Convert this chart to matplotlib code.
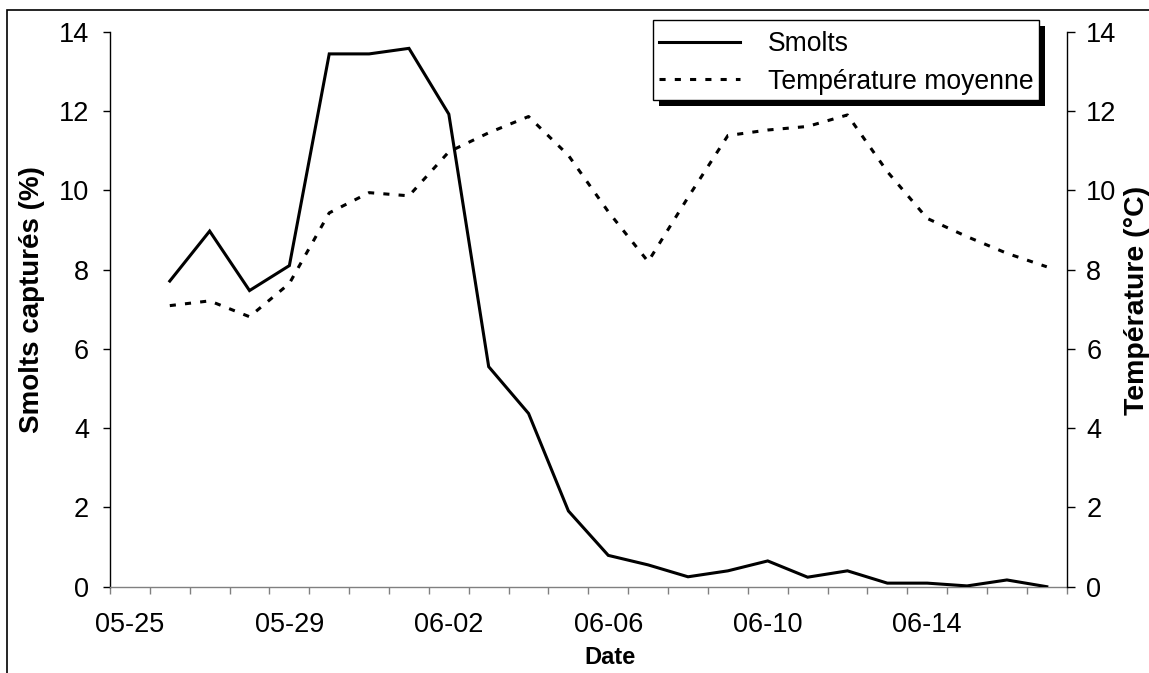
import numpy as np
import matplotlib
matplotlib.use("Agg")
import matplotlib.pyplot as plt
from matplotlib.patches import Rectangle

plt.rcParams["font.family"] = ["Liberation Sans", "DejaVu Sans"]

# Daily categories on the x axis
dates = ["05-25", "05-26", "05-27", "05-28", "05-29", "05-30", "05-31",
         "06-01", "06-02", "06-03", "06-04", "06-05", "06-06", "06-07",
         "06-08", "06-09", "06-10", "06-11", "06-12", "06-13", "06-14",
         "06-15", "06-16", "06-17"]

# Sampling days (first category has no data)
sample_dates = dates[1:]

# Percentage of smolts captured per day
smolts = [7.71, 8.97, 7.47, 8.10, 13.44, 13.44, 13.58, 11.92, 5.55, 4.37,
          1.91, 0.79, 0.55, 0.25, 0.40, 0.65, 0.24, 0.40, 0.09, 0.09,
          0.02, 0.17, 0.00]

# Mean daily water temperature (°C)
temperature = [7.09, 7.21, 6.81, 7.65, 9.43, 9.94, 9.86, 10.97, 11.45, 11.86,
               10.88, 9.46, 8.20, 9.82, 11.38, 11.52, 11.61, 11.90, 10.47, 9.29,
               8.83, 8.41, 8.07]

label_every = 4
y_ticks = list(range(0, 15, 2))

W, H = 1149, 673
fig = plt.figure(figsize=(W / 100, H / 100), dpi=100)
fig.patch.set_facecolor("white")


def px_box(x0, y0, x1, y1):
    """Figure-fraction rectangle from top-left pixel coordinates."""
    return (x0 / W, 1 - y1 / H), (x1 - x0) / W, (y1 - y0) / H


# outer chart-area frame
fig.patches.append(Rectangle((7 / W, -0.2), 2.0, 1.2 - 10 / H,
                             transform=fig.transFigure, fill=False,
                             edgecolor="black", linewidth=1.2))

left, right, top, bottom = 110, 1066.7, 31.7, 586.7
ax = fig.add_axes([left / W, (H - bottom) / H, (right - left) / W, (bottom - top) / H])

x = [dates.index(d) for d in sample_dates]
line_s, = ax.plot(x, smolts, color="black", lw=2.2, solid_joinstyle="miter",
                  label="Smolts", zorder=3)

ax2 = ax.twinx()
line_t, = ax2.plot(x, temperature, color="black", lw=2.2,
                   linestyle=(0, (2.0, 3.0)), dash_capstyle="butt",
                   label="Température moyenne", zorder=3)

n = len(dates)
ax.set_xlim(-0.5, n - 0.5)
ax.set_ylim(0, 14)
ax2.set_ylim(0, 14)
ax.set_yticks(y_ticks)
ax2.set_yticks(y_ticks)

# boundaries between days carry the tick marks, labels sit at day centres
ax.set_xticks(np.arange(-0.5, n, 1.0))
ax.set_xticklabels([])
ax.set_xticks(range(0, n, label_every), minor=True)
ax.set_xticklabels(dates[::label_every], minor=True)

tick_fs = 19.5
ax.tick_params(axis="x", which="major", length=5.2, width=1.0,
               color="#808080", direction="out")
ax.tick_params(axis="x", which="minor", length=0, pad=18, labelsize=tick_fs)
ax.tick_params(axis="y", length=5.0, width=1.0, pad=10, labelsize=tick_fs)
ax2.tick_params(axis="y", length=5.5, width=1.0, pad=8.5, labelsize=tick_fs)

for sp in ("top", "right"):
    ax.spines[sp].set_visible(False)
for sp in ("top", "left", "bottom"):
    ax2.spines[sp].set_visible(False)
ax.spines["bottom"].set_color("#808080")
ax.spines["bottom"].set_linewidth(1.0)
ax.spines["left"].set_linewidth(1.0)
ax2.spines["right"].set_linewidth(1.0)

fig.text(32 / W, 1 - 300 / H, "Smolts capturés (%)", rotation=90,
         ha="center", va="center", fontsize=20, fontweight="bold")
fig.text(1137 / W, 1 - 300 / H, "Température (°C)", rotation=90,
         ha="center", va="center", fontsize=20.5, fontweight="bold")
fig.text(610 / W, 1 - 657 / H, "Date", ha="center", va="center",
         fontsize=17, fontweight="bold")

# legend box with a solid drop shadow
(bx, by), bw, bh = px_box(653, 20, 1039, 100)
ax2.add_artist(Rectangle((bx + 6 / W, by - 6 / H), bw, bh, transform=fig.transFigure,
                         facecolor="black", edgecolor="none", zorder=8, clip_on=False))
ax2.add_artist(Rectangle((bx, by), bw, bh, transform=fig.transFigure,
                         facecolor="white", edgecolor="black", linewidth=1.0,
                         zorder=9, clip_on=False))

leg = ax2.legend([line_s, line_t], [line_s.get_label(), line_t.get_label()],
                 loc="upper left", bbox_to_anchor=(653 / W, 1 - 25 / H),
                 bbox_transform=fig.transFigure, borderaxespad=0,
                 frameon=False, fontsize=19.1, handlelength=3.06,
                 handletextpad=1.05, borderpad=0.22, labelspacing=0.45)
leg.set_zorder(10)

fig.savefig("out.png", dpi=100)
